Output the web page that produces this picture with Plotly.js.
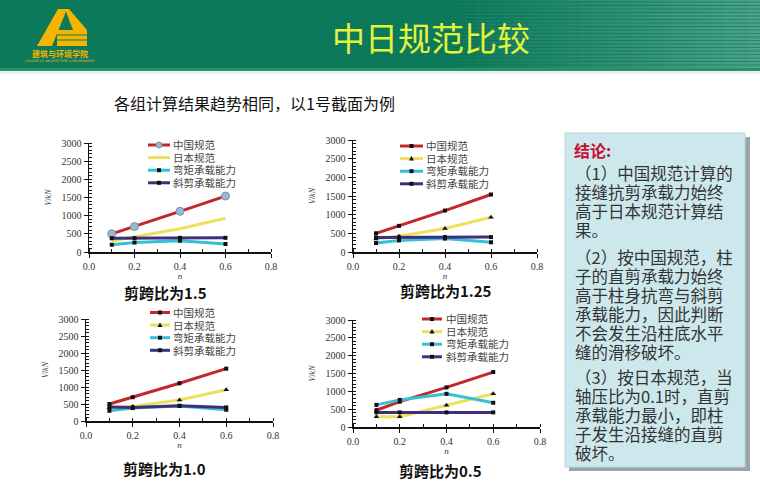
<!DOCTYPE html>
<html><head><meta charset="utf-8">
<script src="https://cdn.plot.ly/plotly-3.0.1.min.js"></script>
<style>html,body{margin:0;padding:0;background:#fff;}#c{width:760px;height:487px;}</style>
</head><body><div id="c"></div><script>
const W=760,H=487;
const X=p=>p/W, Y=p=>1-p/H;

// ---- data ----
const nValues=[0.1,0.2,0.4,0.6];
const seriesNames=['中国规范','日本规范','弯矩承载能力','斜剪承载能力'];
const panelTitles=['剪跨比为1.5','剪跨比为1.25','剪跨比为1.0','剪跨比为0.5'];
const xTicks=[0,0.2,0.4,0.6,0.8];
const yTicks=[0,500,1000,1500,2000,2500,3000];
// 剪跨比 1.5
const china15=[500,700,1120,1540];
const japan15=[300,420,640,930];
const bend15=[200,260,310,220];
const shear15=[380,380,390,390];
// 剪跨比 1.25
const china125=[500,700,1110,1540];
const japan125=[350,420,630,930];
const bend125=[240,310,360,260];
const shear125=[390,390,400,400];
// 剪跨比 1.0
const china10=[500,700,1110,1540];
const japan10=[400,430,620,920];
const bend10=[300,380,440,330];
const shear10=[410,400,450,400];
// 剪跨比 0.5
const china05=[470,710,1110,1540];
const japan05=[290,290,610,930];
const bend05=[620,760,930,680];
const shear05=[410,410,410,410];

const panels=[
  {data:[china15,japan15,bend15,shear15], x:[89,271], y:[143,252]},
  {data:[china125,japan125,bend125,shear125], x:[353,537], y:[140,252]},
  {data:[china10,japan10,bend10,shear10], x:[86,273], y:[319,421]},
  {data:[china05,japan05,bend05,shear05], x:[353,540], y:[320,427]}
];
const colors=['#c3272b','#eee05c','#35c0d6','#3d2f7c'];

const traces=[];
const layout={
  width:W,height:H,margin:{l:0,r:0,t:0,b:0},
  paper_bgcolor:'#ffffff',plot_bgcolor:'rgba(0,0,0,0)',
  showlegend:false,shapes:[],annotations:[]
};
const tickFont={family:'Liberation Serif, serif',size:10,color:'#333'};

panels.forEach((p,i)=>{
  const k=i===0?'':String(i+1);
  p.data.forEach((vals,s)=>{
    let marker;
    if(i===0){
      if(s===0) marker={symbol:'circle',size:8,color:'#9bb8d4',line:{color:'#7a8fa8',width:1}};
      else if(s===1) marker={size:1,color:colors[1],opacity:0};
      else marker={symbol:'square',size:4,color:'#111'};
    } else {
      if(s===1) marker={symbol:'triangle-up',size:5,color:'#111'};
      else marker={symbol:'square',size:4,color:'#111'};
    }
    traces.push({x:nValues,y:vals,name:seriesNames[s],type:'scatter',mode:'lines+markers',
      line:{color:colors[s],width:3},marker:marker,xaxis:'x'+k,yaxis:'y'+k,cliponaxis:false});
  });
  layout['xaxis'+k]={domain:[X(p.x[0]),X(p.x[1])],range:[0,0.8],anchor:'y'+k,
    tickvals:xTicks,tickformat:'.1f',showgrid:false,zeroline:false,showline:true,linecolor:'#111',linewidth:1.5,
    ticks:'outside',ticklen:4,tickcolor:'#111',tickfont:tickFont,
    minor:{ticks:'inside',ticklen:3,dtick:0.1,tickcolor:'#111'},
    title:{text:'<i>n</i>',font:{family:'Liberation Serif, serif',size:9,color:'#333'},standoff:0},fixedrange:true};
  layout['yaxis'+k]={domain:[Y(p.y[1]),Y(p.y[0])],range:[0,3000],anchor:'x'+k,
    tickvals:yTicks,showgrid:false,zeroline:false,showline:true,linecolor:'#111',linewidth:1.5,
    ticks:'outside',ticklen:4,tickcolor:'#111',tickfont:tickFont,
    minor:{ticks:'inside',ticklen:3,dtick:100,tickcolor:'#111'},
    title:{text:'<i>V</i>/<i>kN</i>',font:{family:'Liberation Serif, serif',size:8,color:'#333'},standoff:8},fixedrange:true};
});

// ---- header ----
const sh=layout.shapes, an=layout.annotations;
sh.push({type:'rect',xref:'paper',yref:'paper',x0:0,x1:1,y0:Y(70),y1:1,fillcolor:'#0c7a5a',line:{width:0},layer:'below'});
const gx0=450,gx1=760,steps=24;
for(let j=0;j<steps;j++){
  sh.push({type:'rect',xref:'paper',yref:'paper',x0:X(gx0+(gx1-gx0)*j/steps),x1:X(gx0+(gx1-gx0)*(j+1)/steps),
    y0:Y(68),y1:1,fillcolor:'rgba(170,225,205,'+(0.4*(j+1)/steps).toFixed(3)+')',line:{width:0},layer:'below'});
}
for(let yy=2;yy<68;yy+=3.5){
  sh.push({type:'line',xref:'paper',yref:'paper',x0:X(gx0),x1:1,y0:Y(yy),y1:Y(yy),line:{color:'rgba(10,110,80,0.55)',width:1.2},layer:'below'});
}
sh.push({type:'rect',xref:'paper',yref:'paper',x0:0,x1:1,y0:Y(71),y1:Y(68),fillcolor:'#2a8f70',line:{width:0},layer:'below'});
sh.push({type:'rect',xref:'paper',yref:'paper',x0:0,x1:1,y0:Y(74),y1:Y(71),fillcolor:'#e6efec',line:{width:0},layer:'below'});
// logo
const pth=pts=>'M'+pts.map(q=>X(q[0])+','+Y(q[1])).join(' L')+' Z';
const logoC='#f4b400';
sh.push({type:'path',xref:'paper',yref:'paper',path:pth([[37,46],[58,9],[67,9],[52,46]]),fillcolor:logoC,line:{width:0},layer:'below'});
sh.push({type:'path',xref:'paper',yref:'paper',path:pth([[65,9],[69,9],[87,30],[73,30]]),fillcolor:logoC,line:{width:0},layer:'below'});
sh.push({type:'rect',xref:'paper',yref:'paper',x0:X(57),x1:X(87),y0:Y(46),y1:Y(30),fillcolor:logoC,line:{width:0},layer:'below'});
[35,40].forEach(yy=>sh.push({type:'line',xref:'paper',yref:'paper',x0:X(57),x1:X(87),y0:Y(yy),y1:Y(yy),line:{color:'#0c7a5a',width:1},layer:'below'}));
an.push({text:'<b>建筑与环境学院</b>',x:X(60),y:Y(53),xref:'paper',yref:'paper',showarrow:false,xanchor:'center',yanchor:'middle',
  borderpad:0,font:{family:'Noto Sans CJK SC',size:8,color:logoC}});
an.push({text:'COLLEGE OF ARCHITECTURE &amp; ENVIRONMENT',x:X(60),y:Y(61),xref:'paper',yref:'paper',showarrow:false,xanchor:'center',yanchor:'middle',
  borderpad:0,font:{family:'DejaVu Sans',size:3,color:logoC}});
an.push({text:'中日规范比较',x:X(431),y:Y(37),xref:'paper',yref:'paper',showarrow:false,xanchor:'center',yanchor:'middle',
  font:{family:'Noto Sans CJK SC',size:33,color:'#e5f23c'}});

// subtitle
an.push({text:'各组计算结果趋势相同，以1号截面为例',x:X(112),y:Y(103),xref:'paper',yref:'paper',showarrow:false,xanchor:'left',yanchor:'middle',
  font:{family:'Noto Sans CJK SC',size:16,color:'#111'}});

// right box
sh.push({type:'rect',xref:'paper',yref:'paper',x0:X(569),x1:X(750),y0:Y(471),y1:Y(137),fillcolor:'#9aa4a6',line:{width:0},layer:'below'});
sh.push({type:'rect',xref:'paper',yref:'paper',x0:X(565),x1:X(745),y0:Y(467),y1:Y(133),fillcolor:'#cde8ec',line:{color:'#b8d6da',width:1},layer:'below'});
an.push({text:'<b>结论:</b>',x:X(573),y:Y(150),xref:'paper',yref:'paper',showarrow:false,xanchor:'left',yanchor:'middle',
  borderpad:0,font:{family:'Noto Sans CJK SC',size:16,color:'#c8102e'}});
const paragraphs=[
 {lines:['（1）中国规范计算的','接缝抗剪承载力始终','高于日本规范计算结','果。'],y0:173},
 {lines:['（2）按中国规范，柱','子的直剪承载力始终','高于柱身抗弯与斜剪','承载能力，因此判断','不会发生沿柱底水平','缝的滑移破坏。'],y0:257},
 {lines:['（3）按日本规范，当','轴压比为0.1时，直剪','承载能力最小，即柱','子发生沿接缝的直剪','破坏。'],y0:377}
];
const lineGap=19;
paragraphs.forEach(p=>{
  const yc=p.y0+(p.lines.length-1)*lineGap/2;
  an.push({text:p.lines.map(t=>'<span style="font-size:16.5px">'+t+'</span>').join('<br>'),
    x:X(574),y:Y(yc),xref:'paper',yref:'paper',showarrow:false,xanchor:'left',yanchor:'middle',align:'left',
    borderpad:0,font:{family:'Noto Sans CJK SC',size:lineGap/1.3,color:'#333'}});
});

// panel titles
const titlePos=[[165,292],[446,290],[164,468],[440,470]];
titlePos.forEach((t,i)=>an.push({text:'<b>'+panelTitles[i]+'</b>',x:X(t[0]),y:Y(t[1]),xref:'paper',yref:'paper',showarrow:false,
  xanchor:'center',yanchor:'middle',borderpad:0,font:{family:'Noto Sans CJK SC',size:15,color:'#111',weight:900}}));

// legend keys drawn in each panel
const legGap=12.6;
const legendPos=[
 {lx:[148,170],tx:172,y0:145},
 {lx:[400,423],tx:425,y0:146},
 {lx:[150,170],tx:172,y0:312.5},
 {lx:[422,442],tx:445,y0:319}
];
legendPos.forEach((L,i)=>{
  seriesNames.forEach((nm,s)=>{
    const ry=L.y0+s*legGap;
    sh.push({type:'line',xref:'paper',yref:'paper',x0:X(L.lx[0]),x1:X(L.lx[1]),y0:Y(ry),y1:Y(ry),line:{color:colors[s],width:3}});
    const cx=(L.lx[0]+L.lx[1])/2;
    if(i===0&&s===0){
      sh.push({type:'circle',xref:'paper',yref:'paper',x0:X(cx-3),x1:X(cx+3),y0:Y(ry+3),y1:Y(ry-3),fillcolor:'#9bb8d4',line:{color:'#7a8fa8',width:1}});
    } else if(!(i===0&&s===1)){
      if(s===1) sh.push({type:'path',xref:'paper',yref:'paper',path:pth([[cx-2.5,ry+2],[cx+2.5,ry+2],[cx,ry-2.5]]),fillcolor:'#111',line:{width:0}});
      else sh.push({type:'rect',xref:'paper',yref:'paper',x0:X(cx-2),x1:X(cx+2),y0:Y(ry+2),y1:Y(ry-2),fillcolor:'#111',line:{width:0}});
    }
  });
  an.push({text:seriesNames.map(t=>'<span style="font-size:10.5px">'+t+'</span>').join('<br>'),
    x:X(L.tx),y:Y(L.y0+1.5*legGap),xref:'paper',yref:'paper',showarrow:false,xanchor:'left',yanchor:'middle',align:'left',
    borderpad:0,font:{family:'Noto Sans CJK SC',size:legGap/1.3,color:'#444'}});
});

Plotly.newPlot('c',traces,layout,{displayModeBar:false,staticPlot:true});
</script></body></html>
